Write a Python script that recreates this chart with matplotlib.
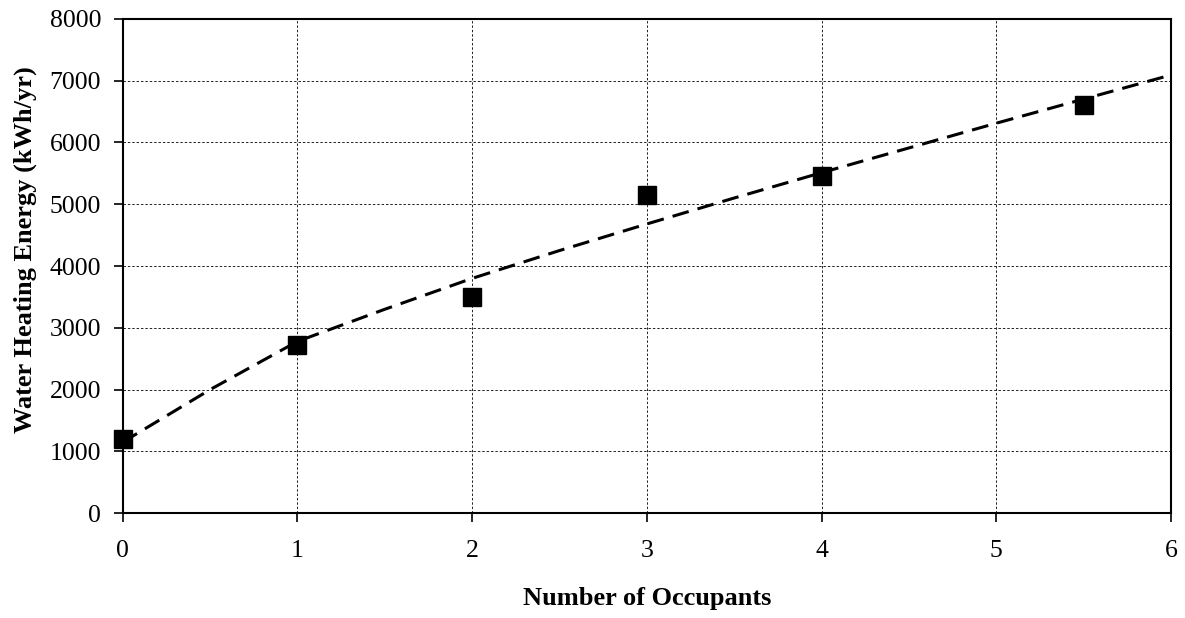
import matplotlib
matplotlib.use("Agg")
import matplotlib.pyplot as plt

# Observed data points
occupants = [0, 1, 2, 3, 4, 5.5]
energy = [1200, 2720, 3500, 5150, 5450, 6600]

# Trend line
trend_x = [0, 0.5, 1, 1.5, 2, 2.5, 3, 3.5, 4, 4.5, 5, 5.5, 6]
trend_y = [1150, 2000, 2780, 3300, 3800, 4250, 4680, 5100, 5510, 5910, 6310, 6700, 7090]

x_ticks = [0, 1, 2, 3, 4, 5, 6]
y_ticks = [0, 1000, 2000, 3000, 4000, 5000, 6000, 7000, 8000]

plt.rcParams['font.family'] = ['Liberation Serif', 'DejaVu Serif']

fig = plt.figure(figsize=(11.85, 6.18), dpi=100)
ax = fig.add_axes([0.1035, 0.1694, 0.8847, 0.8003])

ax.plot(trend_x, trend_y, color='black', linewidth=2.2, linestyle=(0, (5.5, 3)), zorder=3)
ax.plot(occupants, energy, linestyle='none', marker='s', markersize=13,
        color='black', zorder=4, clip_on=False)

ax.set_xlim(0, 6)
ax.set_ylim(0, 8000)
ax.set_xticks(x_ticks)
ax.set_yticks(y_ticks)
ax.grid(True, color='#222222', linestyle=(0, (2.5, 2)), linewidth=0.7)
ax.set_axisbelow(True)

for s in ax.spines.values():
    s.set_linewidth(1.5)
    s.set_color('black')

ax.tick_params(axis='both', direction='out', length=6.5, width=1.2, labelsize=18.5, colors='black')
ax.tick_params(axis='x', pad=13)
ax.tick_params(axis='y', pad=9)

ax.set_xlabel('Number of Occupants', fontsize=19, fontweight='bold', va='center')
ax.set_ylabel('Water Heating Energy (kWh/yr)', fontsize=19, fontweight='bold')
ax.xaxis.set_label_coords(0.5, -0.172)
ax.yaxis.set_label_coords(-0.082, 0.534)

fig.savefig('out.png', dpi=100, facecolor='white')
